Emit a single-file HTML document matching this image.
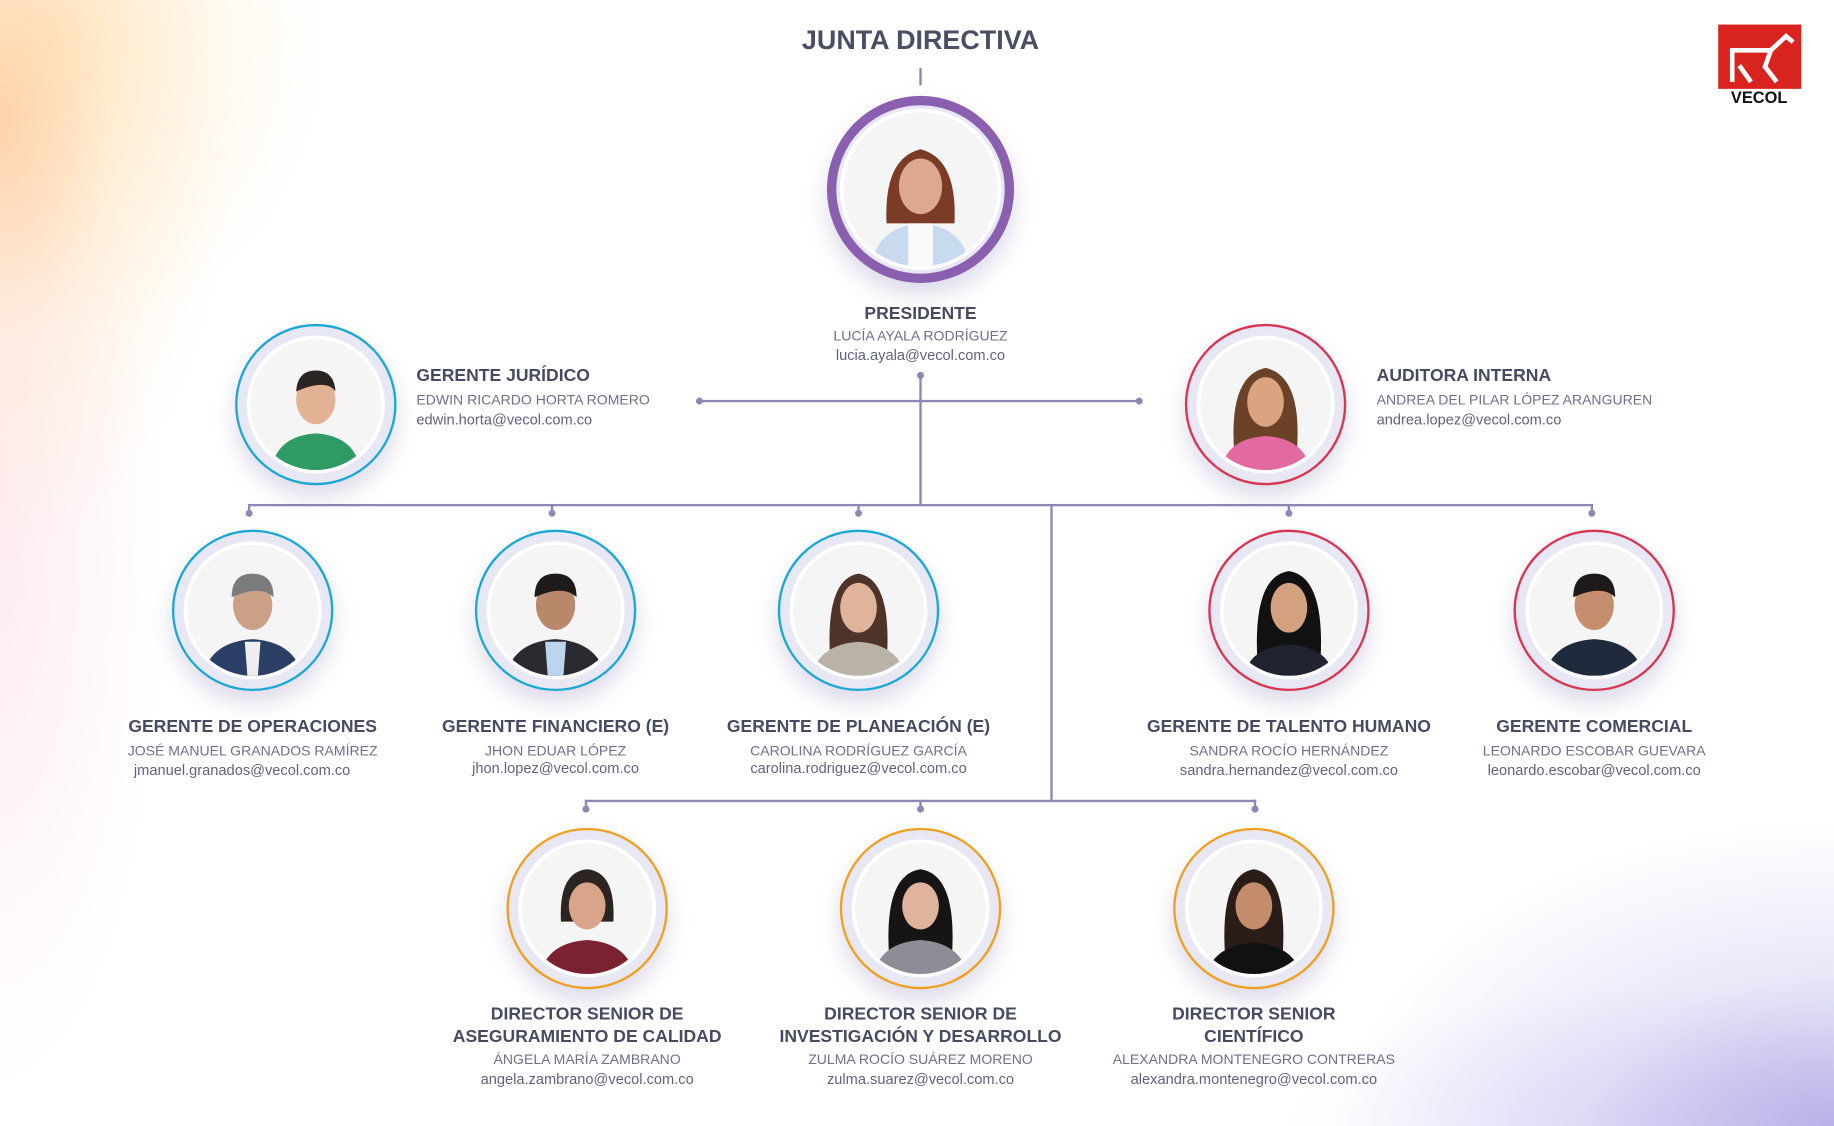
<!DOCTYPE html>
<html><head><meta charset="utf-8">
<style>
html,body{margin:0;padding:0;width:1834px;height:1126px;overflow:hidden;background:#fff}
#st{position:absolute;left:0;top:0;width:1568px;height:963px;transform:scale(1.16964,1.16926);transform-origin:0 0;font-family:"Liberation Sans",sans-serif;
background:
radial-gradient(ellipse 200px 380px at 0px 100px, rgba(255,160,80,.4), rgba(255,200,130,.18) 50%, rgba(255,255,255,0) 100%),
radial-gradient(ellipse 220px 260px at 60px 30px, rgba(255,215,150,.35), rgba(255,255,255,0) 100%),
radial-gradient(ellipse 140px 450px at 0px 480px, rgba(250,180,200,.25), rgba(255,255,255,0) 100%),
radial-gradient(ellipse 420px 260px at 1568px 963px, rgba(120,110,210,.5), rgba(170,160,230,.25) 50%, rgba(255,255,255,0) 100%),
radial-gradient(ellipse 300px 120px at 1400px 963px, rgba(200,180,240,.3), rgba(255,255,255,0) 100%),
#fff;}
.a{position:absolute}
.ln{position:absolute;background:#8b88b3}
.dot{position:absolute;width:6px;height:6px;border-radius:50%;background:#8b88b3}
.c{position:absolute;border-radius:50%;box-sizing:border-box;background:#e8e7f4;box-shadow:0 10px 18px rgba(120,110,170,.25)}
.p{position:absolute;left:11px;top:11px;right:11px;bottom:11px;border-radius:50%;background:#f5f5f6;overflow:hidden;box-shadow:0 0 0 3px #fff}
.p svg{width:100%;height:100%;display:block}
.t{position:absolute;color:#464b60;font-weight:bold;font-size:15px;white-space:nowrap;line-height:19px}
.n{position:absolute;color:#6c7088;font-size:12px;white-space:nowrap}
.e{position:absolute;color:#5f637c;font-size:12.5px;white-space:nowrap}
.ctr{width:360px;text-align:center}
</style></head><body>
<div id="st">
<div class="a" style="left:587px;top:21px;width:400px;text-align:center;font-size:23px;font-weight:bold;color:#4a4e63">JUNTA DIRECTIVA</div>
<div class="ln" style="left:786px;top:58px;width:2px;height:15px"></div>

<!-- logo -->
<div class="a" style="left:1466px;top:18px;width:76px;height:74px;background:#fff">
<div class="a" style="left:3px;top:3px;width:71px;height:55px;background:#d8231f">
<svg width="71" height="55" viewBox="0 0 71 55"><path d="M12 49 V22 H45 L58 10 L64 15 M45 22 L40 36 L50 49 M18 35 L28 49" stroke="#fff" stroke-width="4" fill="none"/></svg></div>
<div class="a" style="left:0;top:58px;width:76px;text-align:center;font-size:14px;line-height:15px;font-weight:bold;color:#111">VECOL</div>
</div>

<!-- connectors -->
<div class="ln" style="left:786px;top:322px;width:2px;height:111px"></div>
<div class="ln" style="left:598px;top:342px;width:376px;height:2px"></div>
<div class="dot" style="left:595px;top:340px"></div><div class="dot" style="left:971px;top:340px"></div><div class="dot" style="left:784px;top:318px"></div>
<div class="ln" style="left:212px;top:431px;width:1150px;height:2px"></div>
<div class="ln" style="left:212px;top:431px;width:2px;height:7px"></div><div class="dot" style="left:210px;top:436px"></div>
<div class="ln" style="left:471px;top:431px;width:2px;height:7px"></div><div class="dot" style="left:469px;top:436px"></div>
<div class="ln" style="left:733px;top:431px;width:2px;height:7px"></div><div class="dot" style="left:731px;top:436px"></div>
<div class="ln" style="left:1101px;top:431px;width:2px;height:7px"></div><div class="dot" style="left:1099px;top:436px"></div>
<div class="ln" style="left:1360px;top:431px;width:2px;height:7px"></div><div class="dot" style="left:1358px;top:436px"></div>
<div class="ln" style="left:898px;top:431px;width:2px;height:254px"></div>
<div class="ln" style="left:500px;top:684px;width:574px;height:2px"></div>
<div class="ln" style="left:500px;top:684px;width:2px;height:7px"></div><div class="dot" style="left:498px;top:689px"></div>
<div class="ln" style="left:786px;top:684px;width:2px;height:7px"></div><div class="dot" style="left:784px;top:689px"></div>
<div class="ln" style="left:1072px;top:684px;width:2px;height:7px"></div><div class="dot" style="left:1070px;top:689px"></div>

<!-- president -->
<div class="c" style="left:707px;top:82px;width:160px;height:160px;border:8px solid #8b5fb0"><div class="p" style="left:6px;top:6px;right:6px;bottom:6px"><svg viewBox="0 0 100 100"><path d="M28 72 Q26 30 50 24 Q74 30 72 72Z" fill="#7a3b27"/><path d="M18 100 Q22 74 50 72 Q78 74 82 100Z" fill="#c8dbee"/><path d="M42 72 H58 V100 H42Z" fill="#fafafa"/><ellipse cx="50" cy="48" rx="14" ry="18" fill="#dca88f"/></svg></div></div>
<div class="t ctr" style="left:607px;top:259px">PRESIDENTE</div>
<div class="n ctr" style="left:607px;top:280px">LUCÍA AYALA RODRÍGUEZ</div>
<div class="e ctr" style="left:607px;top:297px">lucia.ayala@vecol.com.co</div>

<!-- juridico -->
<div class="c" style="left:201px;top:277px;width:138px;height:138px;border:2px solid #1ba8d5"><div class="p"><svg viewBox="0 0 100 100"><path d="M16 100 Q20 74 50 72 Q80 74 84 100Z" fill="#2f9a63"/><ellipse cx="50" cy="46" rx="15" ry="19" fill="#e3b193"/><path d="M35 40 Q36 24 50 24 Q64 24 65 40 Q58 30 35 40Z" fill="#2a2522"/></svg></div></div>
<div class="t" style="left:356px;top:312px">GERENTE JURÍDICO</div>
<div class="n" style="left:356px;top:335px">EDWIN RICARDO HORTA ROMERO</div>
<div class="e" style="left:356px;top:352px">edwin.horta@vecol.com.co</div>

<!-- auditora -->
<div class="c" style="left:1013px;top:277px;width:138px;height:138px;border:2px solid #d83553"><div class="p"><svg viewBox="0 0 100 100"><path d="M26 85 Q22 28 50 22 Q78 28 74 85Z" fill="#6b4128"/><path d="M16 100 Q20 76 50 74 Q80 76 84 100Z" fill="#e26aa0"/><ellipse cx="50" cy="48" rx="14" ry="19" fill="#d9a47f"/></svg></div></div>
<div class="t" style="left:1177px;top:312px">AUDITORA INTERNA</div>
<div class="n" style="left:1177px;top:335px">ANDREA DEL PILAR LÓPEZ ARANGUREN</div>
<div class="e" style="left:1177px;top:352px">andrea.lopez@vecol.com.co</div>

<!-- row 2 -->
<div class="c" style="left:147px;top:453px;width:138px;height:138px;border:2px solid #1ba8d5"><div class="p"><svg viewBox="0 0 100 100"><path d="M12 100 Q18 74 50 72 Q82 74 88 100Z" fill="#2b3f66"/><path d="M44 74 H56 L54 100 H46Z" fill="#eee"/><ellipse cx="50" cy="46" rx="15" ry="19" fill="#caa086"/><path d="M34 40 Q34 22 50 22 Q66 22 66 40 Q56 30 34 40Z" fill="#7b7b7b"/></svg></div></div>
<div class="t ctr" style="left:36px;top:612px">GERENTE DE OPERACIONES</div>
<div class="n ctr" style="left:36px;top:635px">JOSÉ MANUEL GRANADOS RAMÍREZ</div>
<div class="e ctr" style="left:27px;top:652px">jmanuel.granados@vecol.com.co</div>

<div class="c" style="left:406px;top:453px;width:138px;height:138px;border:2px solid #1ba8d5"><div class="p"><svg viewBox="0 0 100 100"><path d="M12 100 Q18 74 50 72 Q82 74 88 100Z" fill="#2a2b30"/><path d="M42 74 H58 L56 100 H44Z" fill="#bcd4ee"/><ellipse cx="50" cy="46" rx="15" ry="19" fill="#b9876a"/><path d="M34 40 Q34 22 50 22 Q66 22 66 40 Q56 30 34 40Z" fill="#1d1a19"/></svg></div></div>
<div class="t ctr" style="left:295px;top:612px">GERENTE FINANCIERO (E)</div>
<div class="n ctr" style="left:295px;top:635px">JHON EDUAR LÓPEZ</div>
<div class="e ctr" style="left:295px;top:650px">jhon.lopez@vecol.com.co</div>

<div class="c" style="left:665px;top:453px;width:138px;height:138px;border:2px solid #1ba8d5"><div class="p"><svg viewBox="0 0 100 100"><path d="M28 80 Q26 26 50 22 Q74 26 72 80Z" fill="#4e3428"/><path d="M14 100 Q20 76 50 74 Q80 76 86 100Z" fill="#b9b2a6"/><ellipse cx="50" cy="48" rx="14" ry="19" fill="#e0b49b"/></svg></div></div>
<div class="t ctr" style="left:554px;top:612px">GERENTE DE PLANEACIÓN (E)</div>
<div class="n ctr" style="left:554px;top:635px">CAROLINA RODRÍGUEZ GARCÍA</div>
<div class="e ctr" style="left:554px;top:650px">carolina.rodriguez@vecol.com.co</div>

<div class="c" style="left:1033px;top:453px;width:138px;height:138px;border:2px solid #d83553"><div class="p"><svg viewBox="0 0 100 100"><path d="M26 90 Q22 24 50 20 Q78 24 74 90Z" fill="#111"/><path d="M16 100 Q20 78 50 76 Q80 78 84 100Z" fill="#1f2230"/><ellipse cx="50" cy="48" rx="14" ry="19" fill="#d3a080"/></svg></div></div>
<div class="t ctr" style="left:922px;top:612px">GERENTE DE TALENTO HUMANO</div>
<div class="n ctr" style="left:922px;top:635px">SANDRA ROCÍO HERNÁNDEZ</div>
<div class="e ctr" style="left:922px;top:652px">sandra.hernandez@vecol.com.co</div>

<div class="c" style="left:1294px;top:453px;width:138px;height:138px;border:2px solid #d83553"><div class="p"><svg viewBox="0 0 100 100"><path d="M12 100 Q18 74 50 72 Q82 74 88 100Z" fill="#1f2a3d"/><ellipse cx="50" cy="46" rx="15" ry="19" fill="#c58e6e"/><path d="M34 40 Q34 22 50 22 Q66 22 66 40 Q56 30 34 40Z" fill="#1d1a19"/></svg></div></div>
<div class="t ctr" style="left:1183px;top:612px">GERENTE COMERCIAL</div>
<div class="n ctr" style="left:1183px;top:635px">LEONARDO ESCOBAR GUEVARA</div>
<div class="e ctr" style="left:1183px;top:652px">leonardo.escobar@vecol.com.co</div>

<!-- row 3 -->
<div class="c" style="left:433px;top:708px;width:138px;height:138px;border:2px solid #f0a021"><div class="p"><svg viewBox="0 0 100 100"><path d="M30 60 Q28 22 50 20 Q72 22 70 60Z" fill="#2c2420"/><path d="M14 100 Q20 76 50 74 Q80 76 86 100Z" fill="#7a2230"/><ellipse cx="50" cy="48" rx="14" ry="18" fill="#d8a58a"/></svg></div></div>
<div class="t ctr" style="left:322px;top:858px">DIRECTOR SENIOR DE<br>ASEGURAMIENTO DE CALIDAD</div>
<div class="n ctr" style="left:322px;top:899px">ÁNGELA MARÍA ZAMBRANO</div>
<div class="e ctr" style="left:322px;top:916px">angela.zambrano@vecol.com.co</div>

<div class="c" style="left:718px;top:708px;width:138px;height:138px;border:2px solid #f0a021"><div class="p"><svg viewBox="0 0 100 100"><path d="M26 86 Q22 24 50 20 Q78 24 74 86Z" fill="#161414"/><path d="M14 100 Q20 76 50 74 Q80 76 86 100Z" fill="#8c8d96"/><ellipse cx="50" cy="48" rx="14" ry="18" fill="#e0b49c"/></svg></div></div>
<div class="t ctr" style="left:607px;top:858px">DIRECTOR SENIOR DE<br>INVESTIGACIÓN Y DESARROLLO</div>
<div class="n ctr" style="left:607px;top:899px">ZULMA ROCÍO SUÁREZ MORENO</div>
<div class="e ctr" style="left:607px;top:916px">zulma.suarez@vecol.com.co</div>

<div class="c" style="left:1003px;top:708px;width:138px;height:138px;border:2px solid #f0a021"><div class="p"><svg viewBox="0 0 100 100"><path d="M28 86 Q24 24 50 20 Q76 24 72 86Z" fill="#2a1d18"/><path d="M14 100 Q20 78 50 76 Q80 78 86 100Z" fill="#111"/><ellipse cx="50" cy="48" rx="14" ry="18" fill="#c38d6c"/></svg></div></div>
<div class="t ctr" style="left:892px;top:858px">DIRECTOR SENIOR<br>CIENTÍFICO</div>
<div class="n ctr" style="left:892px;top:899px">ALEXANDRA MONTENEGRO CONTRERAS</div>
<div class="e ctr" style="left:892px;top:916px">alexandra.montenegro@vecol.com.co</div>
</div>
</body></html>
